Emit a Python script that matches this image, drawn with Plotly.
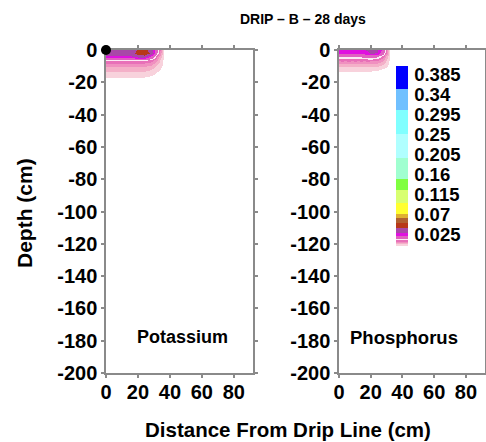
import plotly.graph_objects as go
import numpy as np

W, H = 486, 442

# ---------------- data ----------------
x_cm = [0, 4, 8, 12, 16, 20, 24, 28, 32, 36, 40, 92]
depth_cm = [0, -2, -4, -6, -8, -10, -12, -14, -16, -18, -20, -200]

potassium = [
    [0.033, 0.033, 0.033, 0.033, 0.035, 0.040, 0.044, 0.033, 0.015, 0.0005, 0, 0],
    [0.032, 0.032, 0.032, 0.032, 0.035, 0.044, 0.047, 0.036, 0.013, 0.0004, 0, 0],
    [0.027, 0.027, 0.027, 0.027, 0.028, 0.034, 0.035, 0.019, 0.009, 0.0002, 0, 0],
    [0.012, 0.012, 0.012, 0.012, 0.012, 0.012, 0.012, 0.010, 0.006, 0, 0, 0],
    [0.0085, 0.0085, 0.0085, 0.0085, 0.0085, 0.0085, 0.0085, 0.0075, 0.0045, 0, 0, 0],
    [0.0062, 0.0062, 0.0062, 0.0062, 0.0062, 0.0062, 0.0062, 0.0055, 0.003, 0, 0, 0],
    [0.0045, 0.0045, 0.0045, 0.0045, 0.0045, 0.0045, 0.0045, 0.0038, 0.0018, 0, 0, 0],
    [0.0028, 0.0028, 0.0028, 0.0028, 0.0028, 0.0028, 0.0028, 0.0022, 0.0006, 0, 0, 0],
    [0.0015, 0.0015, 0.0015, 0.0015, 0.0015, 0.0015, 0.0015, 0.0008, 0, 0, 0, 0],
    [0, 0, 0, 0, 0, 0, 0, 0, 0, 0, 0, 0],
    [0, 0, 0, 0, 0, 0, 0, 0, 0, 0, 0, 0],
    [0, 0, 0, 0, 0, 0, 0, 0, 0, 0, 0, 0],
]

phosphorus = [
    [0.024, 0.024, 0.024, 0.025, 0.027, 0.031, 0.030, 0.017, 0.0008, 0, 0, 0],
    [0.0215, 0.0215, 0.0215, 0.022, 0.024, 0.029, 0.027, 0.015, 0.0006, 0, 0, 0],
    [0.014, 0.014, 0.014, 0.014, 0.015, 0.016, 0.0145, 0.010, 0.0004, 0, 0, 0],
    [0.0095, 0.0095, 0.0095, 0.0095, 0.0095, 0.0095, 0.009, 0.0065, 0.0002, 0, 0, 0],
    [0.0065, 0.0065, 0.0065, 0.0065, 0.0065, 0.0065, 0.006, 0.0045, 0, 0, 0, 0],
    [0.0042, 0.0042, 0.0042, 0.0042, 0.0042, 0.0042, 0.0038, 0.0025, 0, 0, 0, 0],
    [0.0018, 0.0018, 0.0018, 0.0018, 0.0018, 0.0018, 0.0015, 0.0008, 0, 0, 0, 0],
    [0.0002, 0.0002, 0.0002, 0.0002, 0.0002, 0.0002, 0.0001, 0, 0, 0, 0, 0],
    [0, 0, 0, 0, 0, 0, 0, 0, 0, 0, 0, 0],
    [0, 0, 0, 0, 0, 0, 0, 0, 0, 0, 0, 0],
    [0, 0, 0, 0, 0, 0, 0, 0, 0, 0, 0, 0],
    [0, 0, 0, 0, 0, 0, 0, 0, 0, 0, 0, 0],
]

cbar_ticks = [0.025, 0.07, 0.115, 0.16, 0.205, 0.25, 0.295, 0.34, 0.385]
cbar_ticktext = ["0.025", "0.07", "0.115", "0.16", "0.205", "0.25", "0.295", "0.34", "0.385"]

y_ticks = [0, -20, -40, -60, -80, -100, -120, -140, -160, -180, -200]
y_ticktext = ["0", "-20", "-40", "-60", "-80", "-100", "-120", "-140", "-160", "-180", "-200"]
x_ticks = [0, 20, 40, 60, 80]
x_ticktext = ["0", "20", "40", "60", "80"]

# ---------------- colour levels ----------------
ZMIN, ZMAX = -0.0015, 0.4035
band_lo = [-0.0015, 0.0035, 0.006, 0.0085, 0.011, 0.0133, 0.0212, 0.028, 0.039,
           0.050, 0.0617, 0.0707, 0.096, 0.125, 0.149, 0.197, 0.250, 0.305, 0.352]
band_col = ['#f8d2dc', '#f4b0c8', '#f090c0', '#e870b8', '#fbeaf4', '#e060c0', '#e010e0',
            '#a848a8', '#b83818', '#b06030', '#e0b030', '#ffff30', '#d8ff70', '#80ff40',
            '#a0ffd0', '#b0ffff', '#80ffff', '#70c0ff', '#0000ff']


def step_scale(los, cols):
    sc = []
    for i, (lo, c) in enumerate(zip(los, cols)):
        hi = los[i + 1] if i + 1 < len(los) else ZMAX
        a = (lo - ZMIN) / (ZMAX - ZMIN)
        b = (hi - ZMIN) / (ZMAX - ZMIN)
        sc.append([max(0.0, a), c])
        sc.append([min(1.0, b), c])
    sc[0][0] = 0.0
    sc[-1][0] = 1.0
    return sc


cbar_scale = step_scale(band_lo, band_col)
# field colours: zero concentration is white
field_scale = step_scale([-0.0015, 0.001] + band_lo[1:], ['#ffffff'] + band_col)

FONT = "Liberation Sans, Arial, Helvetica, sans-serif"


def px(xp):
    return xp / W


def py(yp):
    return 1 - yp / H


ys = list(reversed(depth_cm))
fig = go.Figure()
for i, z in enumerate([potassium, phosphorus]):
    zz = np.array(z)[::-1]
    fig.add_trace(go.Heatmap(
        x=x_cm, y=ys, z=zz, zsmooth='best', colorscale=field_scale,
        zmin=ZMIN, zmax=ZMAX, showscale=False, hoverinfo='skip',
        xaxis='x' if i == 0 else 'x2', yaxis='y' if i == 0 else 'y2'))

# drip point
fig.add_trace(go.Scatter(x=[0], y=[0], mode='markers', cliponaxis=False,
                         marker=dict(size=10, color='black'), hoverinfo='skip',
                         showlegend=False, xaxis='x', yaxis='y'))

# colour bar carrier
fig.add_trace(go.Scatter(
    x=[-500], y=[-500], mode='markers', xaxis='x2', yaxis='y2', showlegend=False,
    hoverinfo='skip',
    marker=dict(color=[0.1], colorscale=cbar_scale, cmin=ZMIN, cmax=ZMAX, showscale=True,
                colorbar=dict(x=px(396), xanchor='left', xref='paper',
                              y=py(156), yanchor='middle', yref='paper',
                              len=180, lenmode='pixels', thickness=12,
                              xpad=0, ypad=0, outlinewidth=0,
                              tickvals=cbar_ticks, ticktext=cbar_ticktext,
                              ticks='outside', ticklen=3, tickcolor='rgba(0,0,0,0)',
                              tickfont=dict(family=FONT, size=18.5, color='black', weight='bold')))))

axis_common = dict(showgrid=False, zeroline=False, showline=True, linecolor='#8a8a8a',
                   linewidth=1.5, ticks='outside', ticklen=3, tickcolor='#8a8a8a',
                   tickwidth=1.5, mirror='ticks', automargin=False,
                   tickfont=dict(family=FONT, size=20, color='black', weight='bold'))

xr = [0, 92]
yr = [-200, 0]


def ann(text, x, y, size, **kw):
    return dict(text=text, x=px(x), y=py(y), xref='paper', yref='paper',
                xanchor='center', yanchor='middle', showarrow=False,
                font=dict(family=FONT, size=size, color='black', weight='bold'), **kw)


fig.update_layout(
    width=W, height=H, margin=dict(l=0, r=0, t=0, b=0, autoexpand=False),
    paper_bgcolor='white', plot_bgcolor='white', showlegend=False,
    xaxis=dict(domain=[px(106), px(253)], range=xr, tickvals=x_ticks, ticktext=x_ticktext,
               anchor='y', layer='below traces', ticklabelstandoff=-3, **axis_common),
    yaxis=dict(domain=[py(373), py(50)], range=yr, tickvals=y_ticks, ticktext=y_ticktext,
               anchor='x', layer='below traces', **axis_common),
    xaxis2=dict(domain=[px(339), px(485)], range=xr, tickvals=x_ticks, ticktext=x_ticktext,
                anchor='y2', ticklabelstandoff=-3, **axis_common),
    yaxis2=dict(domain=[py(373), py(50)], range=yr, tickvals=y_ticks, ticktext=y_ticktext,
                anchor='x2', **axis_common),
    annotations=[
        ann("DRIP \u2013 B \u2013 28 days", 303, 19, 14),
        ann("Depth (cm)", 24, 213, 21, textangle=-90),
        ann("Distance From Drip Line (cm)", 288, 429, 20.5),
        ann("Potassium", 182, 337, 18),
        ann("Phosphorus", 404, 337, 18.5),
    ],
)

fig.write_html("out.html")
